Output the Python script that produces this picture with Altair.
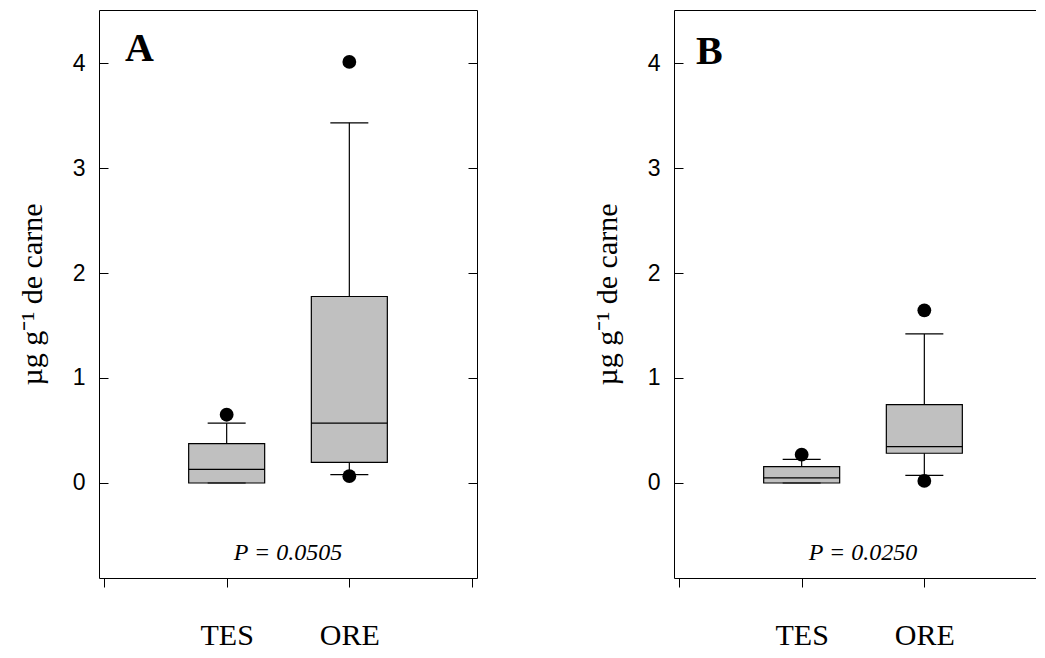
import altair as alt
import pandas as pd

# ---- data ----
groups = ["TES", "ORE"]

# Panel A
a_q1 = [0.0, 0.197]
a_med = [0.13, 0.57]
a_q3 = [0.374, 1.776]
a_lo = [0.0, 0.08]
a_hi = [0.57, 3.43]
a_out_group = ["TES", "ORE", "ORE"]
a_out_val = [0.65, 4.01, 0.065]

# Panel B
b_q1 = [0.0, 0.283]
b_med = [0.048, 0.346]
b_q3 = [0.155, 0.746]
b_lo = [0.0, 0.073]
b_hi = [0.225, 1.42]
b_out_group = ["TES", "ORE", "ORE"]
b_out_val = [0.27, 1.645, 0.02]

panel_letters = ["A", "B"]
p_labels = ["P = 0.0505", "P = 0.0250"]

y_ticks = [0, 1, 2, 3, 4]
x_ticks = [0, 1, 2, 3]
y_title = "µg g⁻¹ de carne"

W, H = 378, 568
pos_of = {g: i + 1 for i, g in enumerate(groups)}
label_expr = " : ".join(
    [f"datum.value == {pos_of[g]} ? '{g}'" for g in groups]
) + " : ''"


def panel(q1, med, q3, lo, hi, og, ov, letter, ptxt, letter_x, letter_y):
    box = pd.DataFrame({
        "group": groups,
        "pos": [pos_of[g] for g in groups],
        "q1": q1, "med": med, "q3": q3, "lo": lo, "hi": hi,
    })
    out = pd.DataFrame({"group": og, "value": ov})
    out["pos"] = out["group"].map(pos_of)

    xscale = alt.Scale(domain=[0, 3], nice=False, zero=False)
    yscale = alt.Scale(domain=[-0.905, 4.505], nice=False, zero=False)
    xaxis = alt.Axis(
        values=x_ticks, tickSize=9, domain=False, grid=False,
        labelExpr=label_expr, labelFont="Liberation Serif", labelFontSize=30,
        labelPadding=57, labelBaseline="alphabetic", labelColor="black",
        tickColor="black", labelOverlap=False, labelFlush=False,
    )
    X = alt.X("pos:Q", scale=xscale, axis=xaxis, title=None)

    left_axis = alt.Axis(
        values=y_ticks, orient="left", offset=-9, tickSize=9, domain=False,
        grid=False, labelFont="Liberation Sans", labelFontSize=23,
        labelPadding=14, labelColor="black", tickColor="black",
        titleFont="Liberation Serif", titleFontSize=30, titleFontWeight="normal",
        titlePadding=25, titleColor="black",
    )
    right_axis = alt.Axis(
        values=y_ticks, orient="right", offset=-9, tickSize=9, domain=False,
        grid=False, labels=False, tickColor="black", title=None,
    )

    base = alt.Chart(box)
    boxes = base.mark_bar(size=76, fill="#c0c0c0", stroke="black", strokeWidth=1.2).encode(
        x=X,
        y=alt.Y("q1:Q", scale=yscale, axis=left_axis, title=y_title),
        y2="q3:Q",
    )
    upper = base.mark_rule(color="black", strokeWidth=1.2).encode(
        x=X, y=alt.Y("q3:Q", scale=yscale, axis=None), y2="hi:Q"
    )
    lower = base.mark_rule(color="black", strokeWidth=1.2).encode(
        x=X, y=alt.Y("lo:Q", scale=yscale, axis=None), y2="q1:Q"
    )
    cap_hi = base.mark_tick(orient="horizontal", size=38, thickness=1.2, color="black", opacity=1).encode(
        x=X, y=alt.Y("hi:Q", scale=yscale, axis=None)
    )
    cap_lo = base.mark_tick(orient="horizontal", size=38, thickness=1.2, color="black", opacity=1).encode(
        x=X, y=alt.Y("lo:Q", scale=yscale, axis=None)
    )
    medians = base.mark_tick(orient="horizontal", size=76, thickness=1.2, color="black", opacity=1).encode(
        x=X, y=alt.Y("med:Q", scale=yscale, axis=None)
    )
    outliers = alt.Chart(out).mark_circle(size=190, color="black", opacity=1).encode(
        x=X, y=alt.Y("value:Q", scale=yscale, axis=right_axis)
    )
    letter_txt = alt.Chart(pd.DataFrame({"t": [letter]})).mark_text(
        font="Liberation Serif", fontSize=40, fontWeight="bold",
        align="left", baseline="alphabetic", color="black",
    ).encode(text="t:N", x=alt.value(letter_x), y=alt.value(letter_y))
    p_txt = alt.Chart(pd.DataFrame({"t": [ptxt]})).mark_text(
        font="Liberation Serif", fontSize=24, fontStyle="italic",
        align="center", baseline="alphabetic", color="black",
    ).encode(text="t:N", x=alt.value(W / 2), y=alt.value(550))

    return alt.layer(
        boxes, upper, lower, cap_hi, cap_lo, medians, outliers, letter_txt, p_txt
    ).resolve_axis(y="independent").properties(width=W, height=H)


pa = panel(a_q1, a_med, a_q3, a_lo, a_hi, a_out_group, a_out_val,
           panel_letters[0], p_labels[0], 26, 51)
pb = panel(b_q1, b_med, b_q3, b_lo, b_hi, b_out_group, b_out_val,
           panel_letters[1], p_labels[1], 22, 54)

chart = alt.hconcat(pa, pb, spacing=113).properties(
    padding={"left": 8, "top": 1, "right": -17, "bottom": 0}
).configure_view(stroke="black", strokeWidth=1)

chart.save("out.html", embed_options={"renderer": "svg", "actions": False})
